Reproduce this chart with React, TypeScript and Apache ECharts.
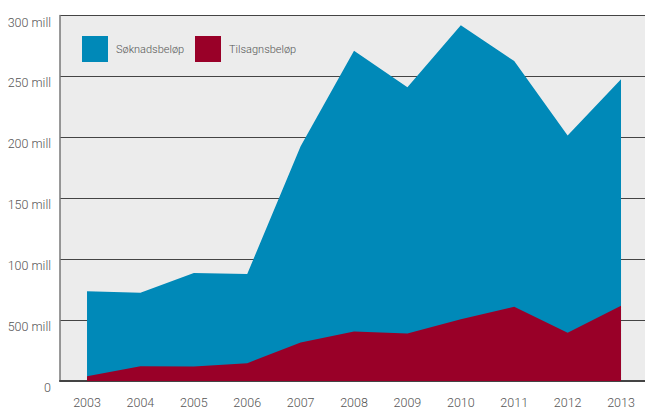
import React, { useEffect, useRef } from "react";
import * as echarts from "echarts";

const years = [2003, 2004, 2005, 2006, 2007, 2008, 2009, 2010, 2011, 2012, 2013];
const soknad = [73.7, 72.4, 88.6, 87.8, 192.7, 271, 241.2, 291.9, 262.6, 201.6, 247.7];
const tilsagn = [3.8, 12.2, 11.9, 14.6, 31.7, 40.6, 39, 50.7, 61, 39.6, 61.8];
const yTickLabels = ["0", "500 mill", "100 mill", "150 mill", "200 mill", "250 mill", "300 mill"];
const seriesNames = ["Søknadsbeløp", "Tilsagnsbeløp"];

const FONT = "Roboto, sans-serif";

const legendBase = {
  top: 31,
  itemWidth: 26,
  itemHeight: 26,
  icon: "rect",
  textStyle: { color: "#555", fontSize: 11, fontWeight: 300, fontFamily: FONT, padding: [0, 0, 0, 3] },
};

export default function App() {
  const ref = useRef<HTMLDivElement>(null);
  useEffect(() => {
    if (!ref.current) return;
    const chart = echarts.init(ref.current, undefined, { renderer: "svg" });
    chart.setOption({
      animation: false,
      textStyle: { fontFamily: FONT },
      grid: {
        left: 60,
        right: 0,
        top: 15.5,
        bottom: 25,
        show: true,
        backgroundColor: "#ececec",
        borderWidth: 0,
      },
      legend: [
        { ...legendBase, left: 77, data: [seriesNames[0]] },
        { ...legendBase, left: 190, data: [seriesNames[1]] },
      ],
      xAxis: {
        type: "value",
        min: 2002.494,
        max: 2013.449,
        splitLine: { show: false },
        axisTick: { show: false },
        axisLine: { show: true, lineStyle: { color: "#444", width: 2 } },
        axisLabel: {
          customValues: years,
          color: "#555",
          fontSize: 12.5,
          fontWeight: 300,
          fontFamily: FONT,
          margin: 15,
          formatter: (v: number) => String(Math.round(v)),
        },
      },
      yAxis: {
        type: "value",
        min: 0,
        max: 300,
        interval: 50,
        axisLine: { show: true, lineStyle: { color: "#777", width: 1.5 } },
        axisTick: { show: false },
        splitLine: { show: true, lineStyle: { color: "#444", width: 1.2 } },
        axisLabel: {
          color: "#555",
          fontSize: 12.5,
          fontWeight: 300,
          fontFamily: FONT,
          margin: 9,
          verticalAlign: "top",
          formatter: (v: number) => yTickLabels[Math.round(v / 50)],
        },
      },
      series: [
        {
          name: seriesNames[0],
          type: "line",
          data: years.map((y, i) => [y, soknad[i]]),
          symbol: "none",
          lineStyle: { width: 0 },
          areaStyle: { color: "#0089b8", opacity: 1 },
          itemStyle: { color: "#0089b8" },
          z: 2,
        },
        {
          name: seriesNames[1],
          type: "line",
          data: years.map((y, i) => [y, tilsagn[i]]),
          symbol: "none",
          lineStyle: { width: 0 },
          areaStyle: { color: "#990028", opacity: 1 },
          itemStyle: { color: "#990028" },
          z: 3,
        },
      ],
    });
    return () => chart.dispose();
  }, []);
  return (
    <div
      ref={ref}
      style={{ position: "absolute", left: 0, top: 0, width: 645, height: 409 }}
    />
  );
}
